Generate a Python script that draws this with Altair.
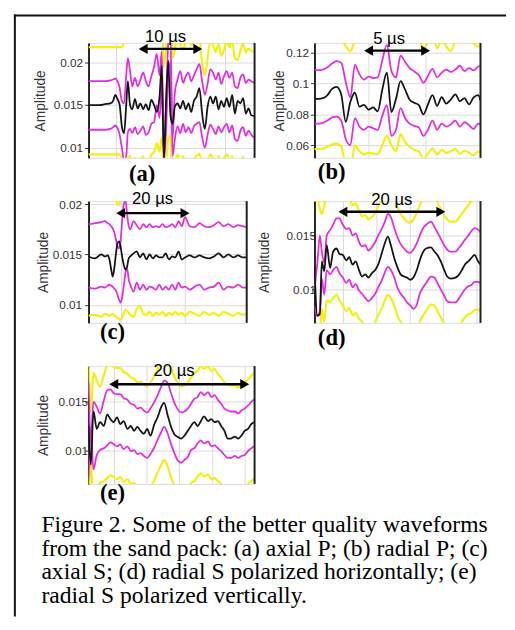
import altair as alt
import pandas as pd

SANS = "Liberation Sans"
SERIF = "Liberation Serif"
YELLOW = "#f3ef12"
MAGENTA = "#e02ee0"
BLACK = "#141414"
GRID = "#d9d9d9"
AXIS = "#222222"
TEXT = "#333333"

# ---------------- (a) axial P ----------------
a_t = [0, 1, 2, 3, 4, 4.5, 4.9, 5.3, 5.7, 6.1, 6.5, 6.9, 7.2, 7.6, 8.0, 8.5, 9.0, 9.5, 10.0, 10.5,
       11.0, 11.5, 12.0, 12.5, 13.0, 13.4, 13.8, 14.2, 14.6, 15.0, 15.4, 15.8, 16.3, 16.8, 17.3, 17.8,
       18.3, 18.8, 19.3, 19.8, 20.3, 20.8, 21.3, 21.8, 22.3, 22.8, 23.3, 23.8, 24.3, 24.8, 25.3, 25.8,
       26.3, 26.8, 27.3, 27.8, 28.3, 28.8, 29.3, 29.8, 30.4]
a_black = [0.0150, 0.0150, 0.0150, 0.0151, 0.0152, 0.0155, 0.0162, 0.0157, 0.0150, 0.0125,
           0.0117, 0.0150, 0.0178, 0.0150, 0.0145, 0.0157, 0.0146, 0.0152, 0.0145, 0.0151,
           0.0144, 0.0156, 0.0150, 0.0142, 0.0160, 0.0196, 0.0085, 0.0155, 0.0202, 0.0138,
           0.0128, 0.0148, 0.0152, 0.0146, 0.0155, 0.0145, 0.0152, 0.0142, 0.0155, 0.0160,
           0.0170, 0.0140, 0.0122, 0.0148, 0.0160, 0.0152, 0.0160, 0.0145, 0.0155, 0.0148,
           0.0158, 0.0148, 0.0162, 0.0140, 0.0155, 0.0152, 0.0158, 0.0140, 0.0146, 0.0138, 0.0137]
a_mag_hi = [0.0178, 0.0178, 0.0178, 0.0178, 0.0179, 0.0180, 0.0181, 0.0178, 0.0170, 0.0155,
            0.0152, 0.0185, 0.0205, 0.0190, 0.0172, 0.0182, 0.0172, 0.0180, 0.0188, 0.0178,
            0.0172, 0.0184, 0.0195, 0.0210, 0.0185, 0.0213, 0.0095, 0.0150, 0.0222, 0.0230,
            0.0110, 0.0165, 0.0180, 0.0190, 0.0176, 0.0184, 0.0188, 0.0178, 0.0185, 0.0192,
            0.0198, 0.0178, 0.0162, 0.0175, 0.0192, 0.0188, 0.0180, 0.0188, 0.0175, 0.0184,
            0.0190, 0.0182, 0.0188, 0.0172, 0.0170, 0.0182, 0.0186, 0.0176, 0.0180, 0.0178, 0.0176]
a_mag_lo = [0.0121, 0.0121, 0.0121, 0.0121, 0.0122, 0.0124, 0.0126, 0.0123, 0.0115, 0.0100,
            0.0085, 0.0090, 0.0118, 0.0122, 0.0117, 0.0124, 0.0116, 0.0120, 0.0125, 0.0115,
            0.0118, 0.0128, 0.0130, 0.0150, 0.0135, 0.0175, 0.0085, 0.0120, 0.0190, 0.0200,
            0.0090, 0.0110, 0.0125, 0.0117, 0.0128, 0.0118, 0.0124, 0.0117, 0.0125, 0.0128,
            0.0130, 0.0112, 0.0100, 0.0115, 0.0127, 0.0122, 0.0116, 0.0125, 0.0118, 0.0124,
            0.0128, 0.0118, 0.0126, 0.0110, 0.0108, 0.0120, 0.0124, 0.0114, 0.0120, 0.0115, 0.0112]
a_yel_hi = [0.0218, 0.0218, 0.0218, 0.0218, 0.0218, 0.0218, 0.0218, 0.0218, 0.0218, 0.0218,
            0.0225, 0.0245, 0.0240, 0.0230, 0.0228, 0.0240, 0.0228, 0.0236, 0.0245, 0.0232,
            0.0228, 0.0240, 0.0250, 0.0260, 0.0240, 0.0260, 0.0195, 0.0215, 0.0260, 0.0270,
            0.0205, 0.0215, 0.0235, 0.0222, 0.0215, 0.0225, 0.0232, 0.0220, 0.0228, 0.0235,
            0.0230, 0.0200, 0.0185, 0.0205, 0.0225, 0.0220, 0.0212, 0.0222, 0.0208, 0.0215,
            0.0225, 0.0218, 0.0226, 0.0205, 0.0203, 0.0214, 0.0222, 0.0212, 0.0216, 0.0214, 0.0212]
a_yel_lo = [0.0092, 0.0092, 0.0092, 0.0092, 0.0092, 0.0092, 0.0092, 0.0092, 0.0092, 0.0085,
            0.0070, 0.0060, 0.0088, 0.0090, 0.0080, 0.0088, 0.0080, 0.0085, 0.0090, 0.0080,
            0.0082, 0.0092, 0.0095, 0.0105, 0.0095, 0.0112, 0.0070, 0.0085, 0.0110, 0.0115,
            0.0070, 0.0080, 0.0092, 0.0085, 0.0090, 0.0080, 0.0086, 0.0080, 0.0087, 0.0090,
            0.0093, 0.0076, 0.0065, 0.0080, 0.0092, 0.0087, 0.0080, 0.0090, 0.0082, 0.0088,
            0.0092, 0.0083, 0.0090, 0.0075, 0.0072, 0.0085, 0.0089, 0.0079, 0.0084, 0.0080, 0.0078]
a_xgrid = [5, 10, 15, 20, 25, 30]
a_yticks = [0.01, 0.015, 0.02]

# ---------------- (b) radial P ----------------
b_t = [0.26, 0.6, 1.0, 1.4, 1.8, 2.2, 2.6, 3.0, 3.4, 3.8, 4.2, 4.6, 5.0, 5.4, 5.8, 6.2, 6.6, 7.0, 7.4,
       7.8, 8.2, 8.6, 9.0, 9.4, 9.8, 10.2, 10.6, 11.0, 11.4, 11.8, 12.2, 12.6, 13.0, 13.4, 13.8, 14.2,
       14.6, 14.8]
b_black = [0.0901, 0.0901, 0.0905, 0.0925, 0.0965, 0.0978, 0.0930, 0.0752, 0.0880, 0.0940,
           0.0850, 0.0862, 0.0830, 0.0845, 0.0820, 0.0960, 0.1070, 0.0815, 0.0900, 0.1015,
           0.0960, 0.0895, 0.0875, 0.0860, 0.0800, 0.0865, 0.0925, 0.0855, 0.0912, 0.0870,
           0.0895, 0.0930, 0.0885, 0.0905, 0.0865, 0.0910, 0.0925, 0.0890]
b_mag_hi = [0.1086, 0.1086, 0.1090, 0.1105, 0.1130, 0.1145, 0.1135, 0.1010, 0.0910, 0.1120,
            0.1060, 0.1025, 0.1045, 0.1035, 0.1040, 0.1150, 0.1250, 0.1080, 0.1040, 0.1180,
            0.1140, 0.1100, 0.1078, 0.1055, 0.1005, 0.1050, 0.1095, 0.1040, 0.1070, 0.1090,
            0.1075, 0.1090, 0.1115, 0.1080, 0.1100, 0.1085, 0.1110, 0.1115]
b_mag_lo = [0.0740, 0.0740, 0.0745, 0.0760, 0.0780, 0.0785, 0.0760, 0.0640, 0.0600, 0.0775,
            0.0720, 0.0700, 0.0720, 0.0710, 0.0700, 0.0790, 0.0860, 0.0660, 0.0700, 0.0840,
            0.0775, 0.0740, 0.0725, 0.0715, 0.0660, 0.0700, 0.0760, 0.0700, 0.0740, 0.0720,
            0.0735, 0.0760, 0.0720, 0.0750, 0.0730, 0.0705, 0.0740, 0.0735]
b_yel_hi = [0.130, 0.130, 0.130, 0.131, 0.134, 0.135, 0.130, 0.124, 0.121, 0.127,
            0.128, 0.132, 0.134, 0.132, 0.134, 0.140, 0.145, 0.135, 0.130, 0.142,
            0.138, 0.134, 0.131, 0.129, 0.122, 0.127, 0.132, 0.123, 0.128, 0.124,
            0.121, 0.128, 0.130, 0.128, 0.130, 0.126, 0.124, 0.125]
b_yel_lo = [0.0575, 0.0575, 0.0578, 0.0590, 0.0605, 0.0610, 0.0590, 0.0470, 0.0440, 0.0600,
            0.0560, 0.0540, 0.0550, 0.0545, 0.0540, 0.0600, 0.0660, 0.0600, 0.0560, 0.0670,
            0.0620, 0.0590, 0.0570, 0.0560, 0.0510, 0.0545, 0.0580, 0.0540, 0.0570, 0.0550,
            0.0560, 0.0575, 0.0545, 0.0565, 0.0550, 0.0535, 0.0560, 0.0555]
b_xgrid = [5, 10]
b_yticks = [0.06, 0.08, 0.1, 0.12]

# ---------------- (c) axial S ----------------
c_t = [-10, -8, -6, -5, -4, -3.5, -3, -2.5, -2, -1.5, -1, -0.5, 0, 0.5, 1, 1.5, 2, 2.5, 3, 4,
       5, 6, 7, 8, 9, 10, 11, 12, 13, 14, 15, 16, 17, 18, 19, 20, 21.5, 23, 24.5, 26,
       27.5, 29, 30.5, 32, 33.5, 35, 36.5, 38, 39.2]
c_black = [0.0148, 0.0146, 0.0150, 0.0148, 0.0149, 0.0145, 0.0136, 0.0128, 0.0136, 0.0150,
           0.0161, 0.0163, 0.0157, 0.0147, 0.0139, 0.0135, 0.0138, 0.0146, 0.0148, 0.0151,
           0.0153, 0.0147, 0.0151, 0.0145, 0.0150, 0.0146, 0.0149, 0.0147, 0.0147, 0.0151,
           0.0145, 0.0148, 0.0147, 0.0153, 0.0145, 0.0147, 0.0149, 0.0147, 0.0149, 0.0147,
           0.0146, 0.0148, 0.0151, 0.0147, 0.0150, 0.0147, 0.0149, 0.0147, 0.0147]
c_mag_hi = [0.0180, 0.0181, 0.0182, 0.0183, 0.0181, 0.0180, 0.0178, 0.0176, 0.0172, 0.0165,
            0.0158, 0.0156, 0.0165, 0.0185, 0.0200, 0.0203, 0.0190, 0.0178, 0.0175, 0.0183,
            0.0179, 0.0175, 0.0180, 0.0177, 0.0180, 0.0177, 0.0178, 0.0177, 0.0180, 0.0177,
            0.0178, 0.0180, 0.0177, 0.0183, 0.0178, 0.0187, 0.0178, 0.0177, 0.0181, 0.0178,
            0.0177, 0.0179, 0.0182, 0.0178, 0.0180, 0.0177, 0.0179, 0.0178, 0.0177]
c_mag_lo = [0.0117, 0.0116, 0.0118, 0.0117, 0.0119, 0.0120, 0.0119, 0.0118, 0.0116, 0.0114,
            0.0110, 0.0105, 0.0102, 0.0108, 0.0120, 0.0132, 0.0136, 0.0125, 0.0120, 0.0113,
            0.0122, 0.0115, 0.0120, 0.0115, 0.0118, 0.0117, 0.0115, 0.0120, 0.0115, 0.0118,
            0.0115, 0.0120, 0.0115, 0.0122, 0.0117, 0.0118, 0.0115, 0.0118, 0.0120, 0.0115,
            0.0117, 0.0118, 0.0122, 0.0115, 0.0118, 0.0117, 0.0120, 0.0117, 0.0117]
c_yel_hi = [0.0213, 0.0214, 0.0215, 0.0216, 0.0214, 0.0213, 0.0211, 0.0209, 0.0207, 0.0204,
            0.0200, 0.0199, 0.0204, 0.0214, 0.0224, 0.0228, 0.0222, 0.0212, 0.0209, 0.0216,
            0.0212, 0.0209, 0.0213, 0.0211, 0.0213, 0.0211, 0.0212, 0.0211, 0.0213, 0.0211,
            0.0212, 0.0213, 0.0211, 0.0216, 0.0212, 0.0220, 0.0212, 0.0211, 0.0214, 0.0212,
            0.0211, 0.0213, 0.0215, 0.0212, 0.0213, 0.0211, 0.0213, 0.0212, 0.0211]
c_yel_lo = [0.0089, 0.0090, 0.0088, 0.0091, 0.0090, 0.0089, 0.0090, 0.0091, 0.0089, 0.0088,
            0.0087, 0.0086, 0.0085, 0.0087, 0.0092, 0.0095, 0.0094, 0.0092, 0.0090, 0.0088,
            0.0096, 0.0099, 0.0091, 0.0090, 0.0093, 0.0089, 0.0092, 0.0090, 0.0093, 0.0089,
            0.0092, 0.0090, 0.0093, 0.0090, 0.0092, 0.0089, 0.0093, 0.0091, 0.0089, 0.0093,
            0.0090, 0.0092, 0.0089, 0.0093, 0.0091, 0.0089, 0.0092, 0.0090, 0.0091]
c_xgrid = [0, 20]
c_yticks = [0.01, 0.015, 0.02]

# ---------------- (d) radial S, horizontal ----------------
d_t = [-5.8, -5.2, -4.7, -4.3, -3.8, -3.3, -2.6, -2.0, -1.3, -0.7, 0, 0.7, 1.3, 2.0, 2.6, 3.3, 3.9,
       4.6, 5.2, 5.9, 6.6, 7.2, 7.9, 8.5, 9.2, 9.8, 10.5, 11.1, 11.8, 12.5, 13.1, 13.8, 14.4, 15.1,
       15.7, 16.4, 17.0, 18.0, 18.7, 19.3, 20.0, 20.7, 21.3, 22.0, 23.0, 23.6, 24.3, 24.9, 25.6,
       26.2, 26.9, 27.5, 28.1]
d_black = [0.0121, 0.0076, 0.0077, 0.0126, 0.0117, 0.0141, 0.0120, 0.0135, 0.0138, 0.0133,
           0.0132, 0.0127, 0.0130, 0.0123, 0.0126, 0.0118, 0.0112, 0.0114, 0.0111, 0.0115,
           0.0118, 0.0123, 0.0133, 0.0142, 0.0149, 0.0141, 0.0129, 0.0121, 0.0114, 0.0112,
           0.0111, 0.0109, 0.0111, 0.0118, 0.0127, 0.0135, 0.0138, 0.0139, 0.0135, 0.0132,
           0.0126, 0.0118, 0.0112, 0.0110, 0.0111, 0.0113, 0.0118, 0.0123, 0.0126, 0.0129,
           0.0132, 0.0127, 0.0123]
d_mag_hi = [0.0100, 0.0125, 0.0150, 0.0135, 0.0125, 0.0150, 0.0155, 0.0160, 0.0166, 0.0166,
            0.0160, 0.0156, 0.0157, 0.0150, 0.0152, 0.0144, 0.0140, 0.0141, 0.0136, 0.0139,
            0.0144, 0.0150, 0.0156, 0.0162, 0.0170, 0.0167, 0.0157, 0.0149, 0.0142, 0.0138,
            0.0135, 0.0134, 0.0137, 0.0143, 0.0150, 0.0157, 0.0160, 0.0163, 0.0158, 0.0153,
            0.0147, 0.0141, 0.0137, 0.0135, 0.0135, 0.0138, 0.0142, 0.0146, 0.0150, 0.0154,
            0.0157, 0.0156, 0.0153]
d_mag_lo = [0.0085, 0.0075, 0.0080, 0.0110, 0.0095, 0.0118, 0.0114, 0.0118, 0.0121, 0.0115,
            0.0111, 0.0106, 0.0109, 0.0102, 0.0105, 0.0099, 0.0096, 0.0092, 0.0089, 0.0092,
            0.0096, 0.0102, 0.0108, 0.0115, 0.0121, 0.0118, 0.0111, 0.0102, 0.0096, 0.0092,
            0.0088, 0.0085, 0.0082, 0.0086, 0.0096, 0.0102, 0.0106, 0.0112, 0.0111, 0.0106,
            0.0100, 0.0094, 0.0089, 0.0088, 0.0088, 0.0091, 0.0096, 0.0100, 0.0103, 0.0104,
            0.0107, 0.0107, 0.0106]
d_yel_hi = [0.0190, 0.0185, 0.0175, 0.0170, 0.0178, 0.0185, 0.0183, 0.0188, 0.0193, 0.0193,
            0.0188, 0.0184, 0.0184, 0.0178, 0.0180, 0.0173, 0.0168, 0.0169, 0.0165, 0.0167,
            0.0171, 0.0177, 0.0183, 0.0190, 0.0197, 0.0194, 0.0185, 0.0177, 0.0170, 0.0166,
            0.0163, 0.0162, 0.0165, 0.0171, 0.0178, 0.0185, 0.0188, 0.0190, 0.0186, 0.0181,
            0.0175, 0.0169, 0.0165, 0.0163, 0.0163, 0.0166, 0.0170, 0.0174, 0.0178, 0.0182,
            0.0185, 0.0184, 0.0181]
d_yel_lo = [0.0062, 0.0050, 0.0055, 0.0082, 0.0070, 0.0090, 0.0088, 0.0092, 0.0095, 0.0090,
            0.0085, 0.0080, 0.0083, 0.0076, 0.0078, 0.0073, 0.0070, 0.0066, 0.0063, 0.0066,
            0.0070, 0.0076, 0.0082, 0.0089, 0.0095, 0.0092, 0.0085, 0.0076, 0.0070, 0.0066,
            0.0062, 0.0059, 0.0056, 0.0060, 0.0070, 0.0076, 0.0080, 0.0086, 0.0085, 0.0080,
            0.0074, 0.0068, 0.0063, 0.0062, 0.0062, 0.0065, 0.0070, 0.0074, 0.0077, 0.0078,
            0.0081, 0.0081, 0.0080]
d_xgrid = [0, 6.8, 13.6, 20.4, 27.2]
d_yticks = [0.01, 0.015]

# ---------------- (e) radial S, vertical ----------------
e_t = [-3.85, -3.5, -3.1, -2.6, -2.1, -1.5, -1.0, -0.5, 0, 0.5, 1.0, 1.5, 2.1, 2.6, 3.1, 3.6, 4.1,
       4.6, 5.1, 5.6, 6.2, 6.7, 7.2, 7.7, 8.2, 8.7, 9.2, 9.7, 10.3, 10.8, 11.3, 11.8, 12.3, 12.8,
       13.3, 13.8, 14.4, 14.9, 15.4, 15.9, 16.4, 16.9, 17.4, 17.9, 18.5, 19.0, 19.5, 20.0, 20.5,
       21.0, 21.5]
e_black = [0.0125, 0.0085, 0.0140, 0.0122, 0.0129, 0.0125, 0.0137, 0.0132, 0.0129, 0.0134,
           0.0127, 0.0130, 0.0122, 0.0125, 0.0120, 0.0124, 0.0120, 0.0117, 0.0122, 0.0115,
           0.0127, 0.0134, 0.0144, 0.0149, 0.0137, 0.0125, 0.0117, 0.0114, 0.0112, 0.0115,
           0.0120, 0.0125, 0.0129, 0.0125, 0.0130, 0.0135, 0.0130, 0.0132, 0.0129, 0.0130,
           0.0125, 0.0120, 0.0112, 0.0112, 0.0114, 0.0112, 0.0115, 0.0120, 0.0122, 0.0127, 0.0129]
e_mag_hi = [0.0170, 0.0110, 0.0150, 0.0145, 0.0138, 0.0152, 0.0162, 0.0163, 0.0159, 0.0158,
            0.0158, 0.0154, 0.0152, 0.0148, 0.0147, 0.0143, 0.0144, 0.0141, 0.0139, 0.0143,
            0.0150, 0.0157, 0.0165, 0.0172, 0.0170, 0.0160, 0.0150, 0.0143, 0.0139, 0.0140,
            0.0143, 0.0148, 0.0153, 0.0155, 0.0160, 0.0157, 0.0160, 0.0155, 0.0157, 0.0152,
            0.0148, 0.0143, 0.0141, 0.0140, 0.0140, 0.0138, 0.0141, 0.0143, 0.0146, 0.0150, 0.0153]
e_mag_lo = [0.0070, 0.0120, 0.0080, 0.0095, 0.0100, 0.0102, 0.0105, 0.0108, 0.0106, 0.0104,
            0.0106, 0.0101, 0.0104, 0.0099, 0.0100, 0.0096, 0.0097, 0.0094, 0.0092, 0.0096,
            0.0103, 0.0111, 0.0118, 0.0124, 0.0118, 0.0107, 0.0098, 0.0090, 0.0087, 0.0090,
            0.0093, 0.0100, 0.0102, 0.0107, 0.0110, 0.0107, 0.0109, 0.0104, 0.0105, 0.0102,
            0.0099, 0.0095, 0.0092, 0.0092, 0.0094, 0.0092, 0.0094, 0.0095, 0.0099, 0.0102, 0.0104]
e_yel_hi = [0.0195, 0.0140, 0.0180, 0.0172, 0.0166, 0.0178, 0.0188, 0.0190, 0.0186, 0.0185,
            0.0185, 0.0181, 0.0179, 0.0175, 0.0174, 0.0170, 0.0171, 0.0168, 0.0166, 0.0170,
            0.0177, 0.0184, 0.0192, 0.0199, 0.0197, 0.0187, 0.0177, 0.0170, 0.0166, 0.0167,
            0.0170, 0.0175, 0.0180, 0.0182, 0.0187, 0.0184, 0.0187, 0.0182, 0.0184, 0.0179,
            0.0175, 0.0170, 0.0168, 0.0167, 0.0167, 0.0165, 0.0168, 0.0170, 0.0173, 0.0177, 0.0180]
e_yel_lo = [0.0042, 0.0087, 0.0047, 0.0061, 0.0066, 0.0068, 0.0071, 0.0074, 0.0072, 0.0070,
            0.0072, 0.0067, 0.0070, 0.0065, 0.0066, 0.0062, 0.0063, 0.0060, 0.0058, 0.0062,
            0.0069, 0.0077, 0.0084, 0.0090, 0.0084, 0.0073, 0.0064, 0.0056, 0.0053, 0.0056,
            0.0059, 0.0066, 0.0068, 0.0073, 0.0076, 0.0073, 0.0075, 0.0070, 0.0071, 0.0068,
            0.0065, 0.0061, 0.0058, 0.0058, 0.0060, 0.0058, 0.0060, 0.0061, 0.0065, 0.0068, 0.0070]
e_xgrid = [0, 5, 10, 15, 20]
e_yticks = [0.01, 0.015]

caption = ["Figure 2. Some of the better quality waveforms",
           "from the sand pack: (a) axial P; (b) radial P; (c)",
           "axial S; (d) radial S polarized horizontally; (e)",
           "radial S polarized vertically."]


def panel(t, curves, xdom, ydom, xgrid, yticks, arrow, label, width, height,
          xlab_pos, ytitle_x, tick_size, label_pad, title=None, frame=False):
    rows = []
    for name, vals in curves.items():
        for ti, v in zip(t, vals):
            rows.append({"t": ti, "amp": v, "series": name})
    df = pd.DataFrame(rows)
    x = alt.X("t:Q", scale=alt.Scale(domain=xdom, nice=False, zero=False),
              axis=alt.Axis(values=xgrid, labels=False, ticks=False, domain=False, grid=True,
                            gridColor=GRID, gridWidth=1, title=label, titleFont=SERIF,
                            titleFontSize=23, titleFontWeight="bold", titleColor="black",
                            titleX=xlab_pos[0], titleY=xlab_pos[1], titleAlign="center",
                            titleBaseline="middle"))
    y = alt.Y("amp:Q", scale=alt.Scale(domain=ydom, nice=False, zero=False),
              axis=alt.Axis(values=yticks, format="~g", title="Amplitude", titleFont=SANS,
                            titleFontSize=14, titleFontWeight="normal", titleColor=TEXT,
                            titleX=ytitle_x, titleAngle=270, titleAlign="center",
                            titleBaseline="middle", labelFont=SANS, labelFontSize=12,
                            labelColor=TEXT, tickSize=tick_size, tickColor=TEXT,
                            labelPadding=label_pad, domainColor=AXIS, domainWidth=2,
                            grid=True, gridColor=GRID, gridWidth=1))
    base = alt.Chart(df)

    def lines(names, color, sw):
        return base.transform_filter(
            alt.FieldOneOfPredicate(field="series", oneOf=names)
        ).mark_line(color=color, strokeWidth=sw, clip=True, interpolate="monotone").encode(
            x=x, y=y, detail="series:N")

    layers = [lines(["yel_hi", "yel_lo"], YELLOW, 2.2),
              lines(["mag_hi", "mag_lo"], MAGENTA, 1.8),
              lines(["black"], BLACK, 1.8)]
    s, e, ay, txt, tx, ty = arrow
    layers.append(alt.Chart(pd.DataFrame({"t": [s], "t2": [e], "amp": [ay]}))
                  .mark_rule(color="black", strokeWidth=2.5)
                  .encode(x=x, x2="t2:Q", y=y))
    layers.append(alt.Chart(pd.DataFrame({"t": [s], "amp": [ay]}))
                  .mark_point(shape="triangle-left", filled=True, size=110, color="black", opacity=1)
                  .encode(x=x, y=y))
    layers.append(alt.Chart(pd.DataFrame({"t": [e], "amp": [ay]}))
                  .mark_point(shape="triangle-right", filled=True, size=110, color="black", opacity=1)
                  .encode(x=x, y=y))
    layers.append(alt.Chart(pd.DataFrame({"t": [tx], "amp": [ty], "label": [txt]}))
                  .mark_text(font=SANS, fontSize=17, color="black", baseline="middle")
                  .encode(x=x, y=y, text="label:N"))
    one = pd.DataFrame({"k": [0]})
    layers.append(alt.Chart(one).mark_rule(color=AXIS, strokeWidth=2)
                  .encode(x=alt.datum(xdom[1])))
    if frame:
        layers.append(alt.Chart(one).mark_rule(color="#111111", strokeWidth=2, strokeCap="square")
                      .encode(x=alt.value(-75), y=alt.value(-28), y2=alt.value(583)))
        layers.append(alt.Chart(one).mark_rule(color="#111111", strokeWidth=2, strokeCap="square")
                      .encode(x=alt.value(-75), x2=alt.value(424), y=alt.value(-28)))
    ch = alt.layer(*layers).properties(width=width, height=height)
    if title is not None:
        ch = ch.properties(title=title)
    return ch


def curves(black, mh, ml, yh, yl):
    return {"yel_hi": yh, "yel_lo": yl, "mag_hi": mh, "mag_lo": ml, "black": black}


pa = panel(a_t, curves(a_black, a_mag_hi, a_mag_lo, a_yel_hi, a_yel_lo),
           [0, 30.4], [0.0088, 0.0223], a_xgrid, a_yticks,
           (10, 20, 0.0216, "10 µs", 14.1, 0.0230), "(a)", 169, 117,
           (54, 16), -49, 4, 2, frame=True)
pb = panel(b_t, curves(b_black, b_mag_hi, b_mag_lo, b_yel_hi, b_yel_lo),
           [0.26, 14.8], [0.0518, 0.1263], b_xgrid, b_yticks,
           (5, 10, 0.1213, "5 µs", 6.8, 0.1288), "(b)", 169, 117,
           (17, 14), -36, 4, 2)
pc = panel(c_t, curves(c_black, c_mag_hi, c_mag_lo, c_yel_hi, c_yel_lo),
           [-10, 39.2], [0.0082, 0.0203], c_xgrid, c_yticks,
           (0, 20, 0.0191, "20 µs", 9.9, 0.0205), "(c)", 161, 124,
           (24, 9), -46, 4, 3)
pd_ = panel(d_t, curves(d_black, d_mag_hi, d_mag_lo, d_yel_hi, d_yel_lo),
            [-5.8, 28.1], [0.0069, 0.0182], d_xgrid, d_yticks,
            (0, 20, 0.0172, "20 µs", 10, 0.0183), "(d)", 169, 124,
            (17, 15), -51, 3, -4)
cap_title = alt.TitleParams(text=caption, orient="bottom", anchor="start", frame="group",
                            dx=-48, offset=9, font=SERIF, fontSize=24, fontWeight="normal",
                            color="black", lineHeight=24)
pe = panel(e_t, curves(e_black, e_mag_hi, e_mag_lo, e_yel_hi, e_yel_lo),
           [-3.85, 21.5], [0.0065, 0.0187], e_xgrid, e_yticks,
           (0, 20, 0.01683, "20 µs", 9.2, 0.0182), "(e)", 169, 120,
           (24, 9), -46, 4, -3, title=cap_title)

chart = alt.concat(pa, pb, pc, pd_, pe, columns=2, spacing={"row": 44, "column": 61},
                   bounds="flush",
                   padding={"left": 5, "top": 0, "right": 0, "bottom": 0}
                   ).configure_view(strokeWidth=0).configure(background="white")

chart.save("out.html", embed_options={"renderer": "svg", "actions": False})
